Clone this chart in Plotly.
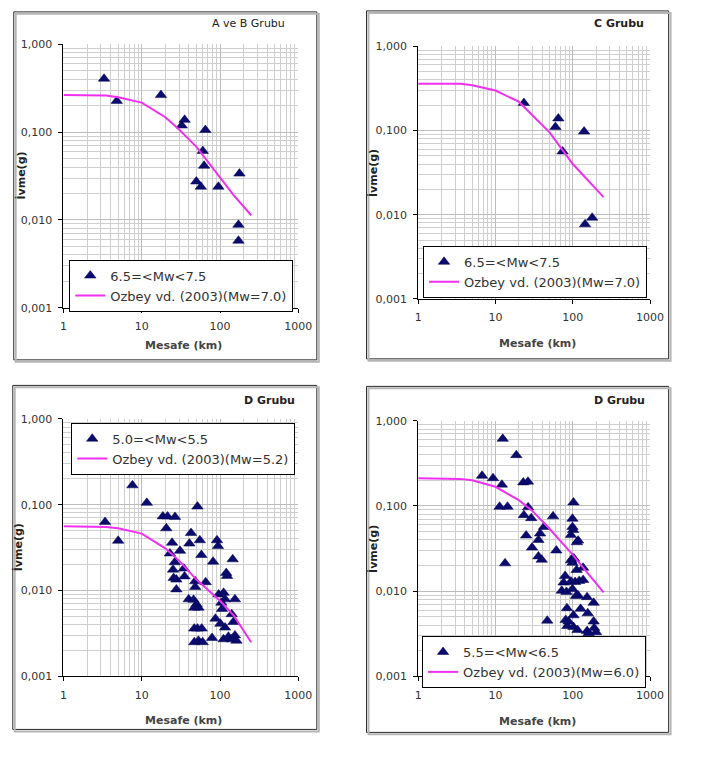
import plotly.graph_objects as go

W, H = 707, 761
FONT = "DejaVu Sans"

# ---------------- data ----------------
model_dist = [1, 2, 3.5, 5, 10, 20, 30, 50, 100, 150, 250]

# Panel 1: A ve B Grubu
ab_dist = [3.3, 4.8, 17.6, 32.4, 35.3, 65, 60.3, 62.6, 49.8, 56.9, 95.3, 177, 172, 172]
ab_pga = [0.406, 0.227, 0.264, 0.119, 0.138, 0.106, 0.061, 0.0414, 0.0274, 0.0239, 0.0239, 0.0337, 0.0088, 0.0058]
ab_model = [0.264, 0.264, 0.262, 0.250, 0.217, 0.148, 0.107, 0.068, 0.030, 0.019, 0.0113]

# Panel 2: C Grubu
c_dist = [23.3, 65, 59.6, 73.8, 140, 144, 178]
c_pga = [0.212, 0.139, 0.110, 0.0564, 0.0973, 0.0077, 0.0092]
c_model = [0.36, 0.36, 0.358, 0.345, 0.298, 0.220, 0.150, 0.095, 0.040, 0.027, 0.0162]

# Panel 3: D Grubu (5.0=<Mw<5.5)
d1_dist = [3.4, 5.0, 7.6, 11.6, 18.6, 21.4, 26.6, 20.6, 24.4, 22.9, 30.8, 26.4, 25.1, 27.7, 27.7,
           34.5, 35.2, 25.6, 51.5, 42.6, 40.6, 55.2, 91.5, 94.2, 57.8, 81.5, 145, 120, 123, 48.2,
           48.2, 65.6, 39.8, 45.9, 50.1, 53.1, 46.9, 96.1, 111, 116, 104, 155, 106, 141, 87.4,
           101, 148, 116, 46.9, 51.5, 58.3, 46.9, 53, 60, 79, 111, 128, 141, 155, 162]
d1_pga = [0.063, 0.038, 0.168, 0.105, 0.073, 0.073, 0.072, 0.053, 0.036, 0.027, 0.029, 0.0213, 0.0175, 0.0134, 0.0103,
          0.018, 0.0146, 0.0140, 0.095, 0.0468, 0.0352, 0.0385, 0.0385, 0.0329, 0.0259, 0.0217, 0.0231, 0.016, 0.0148, 0.0128,
          0.011, 0.0125, 0.0079, 0.0078, 0.0069, 0.0063, 0.0063, 0.009, 0.0094, 0.0079, 0.0072, 0.0079, 0.0061, 0.0053, 0.0047,
          0.0041, 0.0043, 0.0037, 0.0036, 0.0036, 0.0036, 0.0025, 0.0026, 0.0025, 0.0028, 0.0027, 0.0029, 0.0027, 0.0030, 0.0026]
d1_model = [0.056, 0.056, 0.055, 0.053, 0.046, 0.031, 0.0223, 0.0134, 0.0076, 0.0051, 0.0025]

# Panel 4: D Grubu (5.5=<Mw<6.5)
d2_dist = [12.4, 18.6, 6.7, 9.3, 12.1, 22.9, 26.3, 11.3, 14.3, 13.3, 26.4, 23.3, 29, 24.9, 29.7,
           42.4, 37.7, 35.9, 35.9, 39.6, 55.5, 61.2, 46.7, 102, 99, 99, 101, 94.6, 117,
           113, 100, 95, 99, 104, 112, 136, 79.5, 76, 94.6, 107, 121, 136, 72, 83,
           99, 117, 153, 186, 84, 126, 102, 156, 81, 186, 85, 102, 115, 153, 189,
           200, 110, 88, 160]
d2_pga = [0.614, 0.395, 0.226, 0.212, 0.178, 0.189, 0.193, 0.098, 0.098, 0.0212, 0.0966, 0.078, 0.072, 0.045, 0.0325,
          0.0568, 0.0475, 0.0399, 0.0256, 0.0234, 0.0755, 0.030, 0.0045, 0.110, 0.0708, 0.0568, 0.0521, 0.0455, 0.0392,
          0.0375, 0.0245, 0.023, 0.0215, 0.024, 0.0177, 0.0188, 0.0151, 0.0126, 0.013, 0.0128, 0.0132, 0.0135, 0.0101, 0.0098,
          0.0106, 0.0089, 0.0085, 0.0073, 0.0063, 0.0062, 0.0052, 0.0055, 0.0046, 0.0044, 0.0039, 0.0038, 0.0035, 0.0034, 0.0037,
          0.0033, 0.0088, 0.0044, 0.0032]
d2_model = [0.212, 0.212, 0.208, 0.200, 0.168, 0.117, 0.0875, 0.054, 0.0267, 0.017, 0.0097]

x_tick_vals = [1, 10, 100, 1000]
x_tick_labels = ["1", "10", "100", "1000"]
y_tick_vals = [0.001, 0.01, 0.1, 1]
y_tick_labels = ["0,001", "0,010", "0,100", "1,000"]

# ---------------- layout helpers ----------------
def fx(px):
    return px / W


def fy(py):
    return 1 - py / H


minor_x = [k * 10 ** e for e in range(0, 3) for k in range(2, 10)]
minor_y = [k * 10.0 ** e for e in range(-3, 0) for k in range(2, 10)]

panels = [
    dict(title="A ve B Grubu", bold=False, dist=ab_dist, pga=ab_pga, model=ab_model,
         label="6.5=<Mw<7.5", mlabel="Ozbey vd. (2003)(Mw=7.0)",
         plot=(61, 302, 39, 307), frame=(10, 321, 6, 360), tpos=(251, 18),
         lpos=(67, 258), ytitle_x=18, xtitle_y=345),
    dict(title="C Grubu", bold=True, dist=c_dist, pga=c_pga, model=c_model,
         label="6.5=<Mw<7.5", mlabel="Ozbey vd. (2003)(Mw=7.0)",
         plot=(425, 663, 41, 298), frame=(372, 682, 5, 359), tpos=(631, 18),
         lpos=(430, 244), ytitle_x=378, xtitle_y=343),
    dict(title="D Grubu", bold=True, dist=d1_dist, pga=d1_pga, model=d1_model,
         label="5.0=<Mw<5.5", mlabel="Ozbey vd. (2003)(Mw=5.2)",
         plot=(61, 302, 420, 682), frame=(9, 321, 386, 736), tpos=(272, 401),
         lpos=(69, 424), ytitle_x=14, xtitle_y=727),
    dict(title="D Grubu", bold=True, dist=d2_dist, pga=d2_pga, model=d2_model,
         label="5.5=<Mw<6.5", mlabel="Ozbey vd. (2003)(Mw=6.0)",
         plot=(425, 663, 422, 682), frame=(372, 682, 387, 739), tpos=(632, 401),
         lpos=(429, 641), ytitle_x=378, xtitle_y=728),
]

fig = go.Figure()
shapes = []
annotations = []
layout = dict(
    width=W, height=H, margin=dict(l=0, r=0, t=0, b=0),
    paper_bgcolor="white", plot_bgcolor="white",
    font=dict(family=FONT, size=11, color="#333333"),
    showlegend=True,
)

for i, p in enumerate(panels):
    n = "" if i == 0 else str(i + 1)
    xa, ya = "x" + n, "y" + n
    leg = "legend" + n
    l, r, t, b = p["plot"]

    fig.add_trace(go.Scatter(
        x=p["dist"], y=p["pga"], mode="markers", name=p["label"],
        marker=dict(symbol="triangle-up", size=10, color="#0b0b6e",
                    line=dict(width=0.5, color="#000050")),
        xaxis=xa, yaxis=ya, legend=leg,
    ))
    fig.add_trace(go.Scatter(
        x=model_dist, y=p["model"], mode="lines", name=p["mlabel"],
        line=dict(color="#f030f0", width=2),
        xaxis=xa, yaxis=ya, legend=leg,
    ))

    axis_common = dict(
        type="log", showline=True, linecolor="black", linewidth=1,
        ticks="outside", ticklen=4, tickcolor="black",
        showgrid=True, gridcolor="#bdbdbd", gridwidth=1,
        tickfont=dict(family=FONT, size=11, color="#333333"),
        zeroline=False, fixedrange=True,
    )
    layout["xaxis" + n] = dict(
        axis_common, domain=[fx(l), fx(r)], anchor=ya, range=[0, 3],
        tickmode="array", tickvals=x_tick_vals, ticktext=x_tick_labels,
        minor=dict(tickmode="array", tickvals=minor_x, showgrid=True,
                   gridcolor="#cfcfcf", gridwidth=1, ticks=""),
        ticklabelstandoff=4,
    )
    layout["yaxis" + n] = dict(
        axis_common, domain=[fy(b), fy(t)], anchor=xa, range=[-3, 0],
        tickmode="array", tickvals=y_tick_vals, ticktext=y_tick_labels,
        minor=dict(tickmode="array", tickvals=minor_y, showgrid=True,
                   gridcolor="#cfcfcf", gridwidth=1, ticks=""),
        ticklabelstandoff=4,
    )

    lx, ly = p["lpos"]
    layout[leg] = dict(
        x=fx(lx), y=fy(ly), xanchor="left", yanchor="top",
        bgcolor="white", bordercolor="black", borderwidth=1,
        font=dict(family=FONT, size=13, color="#333333"),
        itemwidth=30, tracegroupgap=0, orientation="v",
    )

    # plot-area border (grey top/right)
    shapes.append(dict(type="rect", xref=xa + " domain", yref=ya + " domain",
                       x0=0, x1=1, y0=0, y1=1, line=dict(color="#9a9a9a", width=1),
                       layer="below"))
    # outer frame with shadow
    fl, fr, ft, fb = p["frame"]
    shapes.append(dict(type="rect", xref="paper", yref="paper",
                       x0=fx(fl + 2), x1=fx(fr + 2), y0=fy(fb + 2), y1=fy(ft + 2),
                       line=dict(color="#b5b5b5", width=2)))
    shapes.append(dict(type="rect", xref="paper", yref="paper",
                       x0=fx(fl), x1=fx(fr), y0=fy(fb), y1=fy(ft),
                       fillcolor="white",
                       line=dict(color="#2a2a2a", width=1), layer="below"))

    tx, ty = p["tpos"]
    title_text = "<b>%s</b>" % p["title"] if p["bold"] else p["title"]
    annotations.append(dict(text=title_text, xref="paper", yref="paper",
                            x=fx(tx), y=fy(ty), xanchor="center", yanchor="middle",
                            showarrow=False,
                            font=dict(family=FONT, size=11, color="#222222")))
    annotations.append(dict(text="<b>İvme(g)</b>", xref="paper", yref="paper",
                            x=fx(p["ytitle_x"]), y=fy((t + b) / 2), textangle=-90,
                            xanchor="center", yanchor="middle", showarrow=False,
                            font=dict(family=FONT, size=11, color="#222222")))
    annotations.append(dict(text="<b>Mesafe (km)</b>", xref="paper", yref="paper",
                            x=fx((l + r) / 2 + 3), y=fy(p["xtitle_y"]),
                            xanchor="center", yanchor="middle", showarrow=False,
                            font=dict(family=FONT, size=11, color="#444444")))

layout["shapes"] = shapes
layout["annotations"] = annotations
fig.update_layout(**layout)

fig.write_html("out.html", config={"displayModeBar": False},
               post_script="document.body.style.margin='0px';document.body.style.overflow='hidden';")
